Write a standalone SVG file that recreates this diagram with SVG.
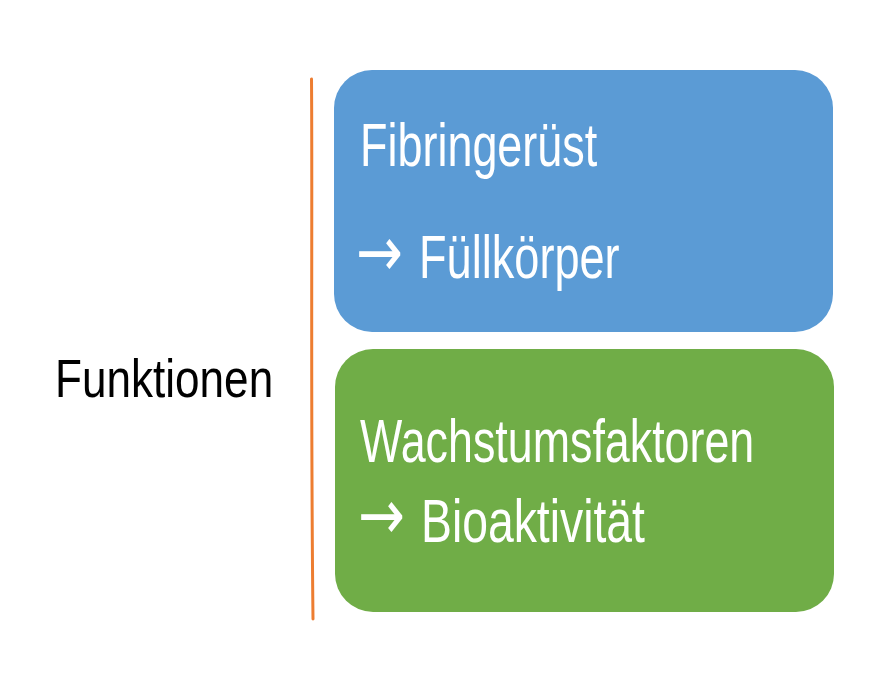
<svg xmlns="http://www.w3.org/2000/svg" width="882" height="682" viewBox="0 0 882 682">
<style>
.t{font-family:"Liberation Sans","Open Sans",sans-serif;fill:#fff;font-size:62px}
.l{font-family:"Liberation Sans","Open Sans",sans-serif;fill:#000;font-size:53px}
.a{font-family:"DejaVu Sans",sans-serif;fill:#fff;font-size:70px}
</style>
<rect width="882" height="682" fill="#fff"/>
<g id="connectors">
<path d="M311.5,79 C312.5,200 310.5,400 313,619" stroke="#ED7D31" stroke-width="3" fill="none" stroke-linecap="round"/>
</g>
<g id="label">
<text class="l" transform="translate(55,397) scale(0.832,1)">Funktionen</text>
</g>
<g id="node-fibrin">
<rect x="334" y="70" width="499" height="262" rx="38" fill="#5B9BD5"/>
<text class="t" transform="translate(360,166) scale(0.725,1)">Fibringerüst</text>
<text class="a" transform="translate(356,276) scale(0.8,1)">→</text>
<text class="t" transform="translate(419,278) scale(0.728,1)">Füllkörper</text>
</g>
<g id="node-growth">
<rect x="335" y="349" width="499" height="263" rx="38" fill="#70AD47"/>
<text class="t" transform="translate(360,462) scale(0.723,1)">Wachstumsfaktoren</text>
<text class="a" transform="translate(358,539) scale(0.8,1)">→</text>
<text class="t" transform="translate(421,542) scale(0.747,1)">Bioaktivität</text>
</g>
</svg>
